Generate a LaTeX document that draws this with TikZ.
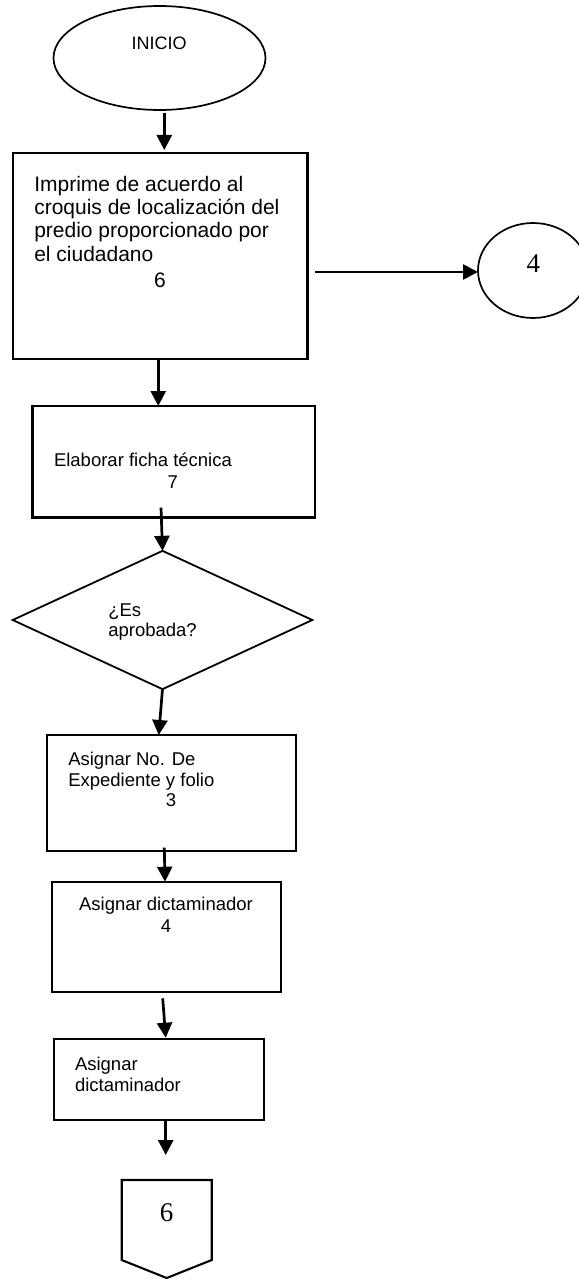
\documentclass[tikz,border=0pt]{standalone}
\usepackage{fontspec}
\setmainfont{Liberation Sans}
\newfontfamily\numfont{Liberation Serif}
\usetikzlibrary{arrows.meta,shapes.geometric,calc}

\begin{document}
\begin{tikzpicture}[x=1pt,y=-1pt,
  stepbox/.style={draw,rectangle,inner sep=0pt,outer sep=0pt,line width=2.1pt},
  termshape/.style={draw,ellipse,inner sep=0pt,outer sep=0pt,line width=1.7pt},
  flow/.style={line width=2.7pt,-{Triangle[length=15pt,width=15pt]}},
  txt/.style={inner sep=0pt,outer sep=0pt,font=\fontsize{18.5}{20.7}\selectfont},
  bigtxt/.style={inner sep=0pt,outer sep=0pt,font=\fontsize{21}{23.3}\selectfont},
  conntxt/.style={inner sep=0pt,outer sep=0pt,font=\numfont\fontsize{27}{30}\selectfont}]
\useasboundingbox (0,0) rectangle (578,1279);

% start terminal
\node[termshape,minimum width=212pt,minimum height=104pt] (inicio) at (159.5,58) {};
\node[txt,font=\fontsize{18}{20}\selectfont] (tinicio) at (159,43) {INICIO};

% step 6
\node[stepbox,line width=2.8pt,minimum width=294.5pt,minimum height=206pt] (b1) at (160.25,256) {};
\node[bigtxt,align=left,anchor=north west] (t1) at (34.3,176)
  {Imprime de acuerdo al\\croquis de localización del\\predio proporcionado por\\el ciudadano};
\node[bigtxt] (n1) at (160,280.3) {6};

% on-page connector 4
\node[termshape,minimum width=110pt,minimum height=95pt] (c4) at (533,270.5) {};
\node[conntxt] (tc4) at (533.3,264) {4};

% step 7
\node[stepbox,line width=2.4pt,minimum width=282.7pt,minimum height=111.3pt] (b2) at (173.65,461.65) {};
\node[txt,anchor=base west] (t2) at (54,466.7) {Elaborar ficha técnica};
\node[txt] (n2) at (172.7,482.5) {7};

% decision
\node[draw,diamond,inner sep=0pt,outer sep=0pt,line width=1.8pt,
      minimum width=299.6pt,minimum height=138.3pt] (dia) at (162.5,620) {};
\node[txt,align=left,anchor=north west,font=\fontsize{18.5}{20}\selectfont] (td) at (108.3,603.3) {¿Es\\aprobada?};

% step 3
\node[stepbox,line width=1.9pt,minimum width=248.4pt,minimum height=115.7pt] (b3) at (171.5,792.85) {};
\node[txt,align=left,anchor=north west] (t3) at (68.3,752.3) {Asignar No. De\\Expediente y folio};
\node[txt] (n3) at (171,800.5) {3};

% step 4
\node[stepbox,minimum width=229pt,minimum height=110.3pt] (b4) at (166.2,936.85) {};
\node[txt,anchor=base] (t4) at (166,910) {Asignar dictaminador};
\node[txt] (n4) at (166,926.5) {4};

% last step
\node[stepbox,minimum width=210.3pt,minimum height=80.7pt] (b5) at (159.15,1079.65) {};
\node[txt,align=left,anchor=north west,font=\fontsize{18.5}{21}\selectfont] (t5) at (75,1056.7) {Asignar\\dictaminador};

% off-page connector 6
\draw[line width=2.1pt,line join=miter] (121.7,1180) -- (211.7,1180) -- (211.7,1260)
  -- (166.7,1278) -- (121.7,1260) -- cycle;
\node[conntxt] (p6) at (166.7,1212.5) {6};

% connectors
\draw[flow] ($(inicio.south)+(4.8,2.7)$) -- ($(b1.north)+(4.05,-3)$);
\coordinate (s1) at ($(b1.east)+(7.5,16)$);
\draw[flow] (s1) -- (s1 -| c4.west);
\coordinate (s2) at ($(b1.south)+(-2,-1)$);
\draw[flow] (s2) -- (s2 |- b2.north);
\draw[flow] ($(b2.south)+(-12.65,-9.6)$) -- (dia.north);
\draw[flow] (dia.south) -- ($(b3.north)+(-12.8,0)$);
\draw[flow] ($(b3.south)+(-7.2,-3)$) -- ($(b4.north)+(-1.2,0)$);
\draw[flow] ($(b4.south)+(-3.5,6.3)$) -- ($(b5.north)+(6.55,-1.6)$);
\coordinate (a7) at (165.7,1155);
\draw[flow] ($(b5.south)+(6.55,0)$) -- (a7);
\end{tikzpicture}
\end{document}
